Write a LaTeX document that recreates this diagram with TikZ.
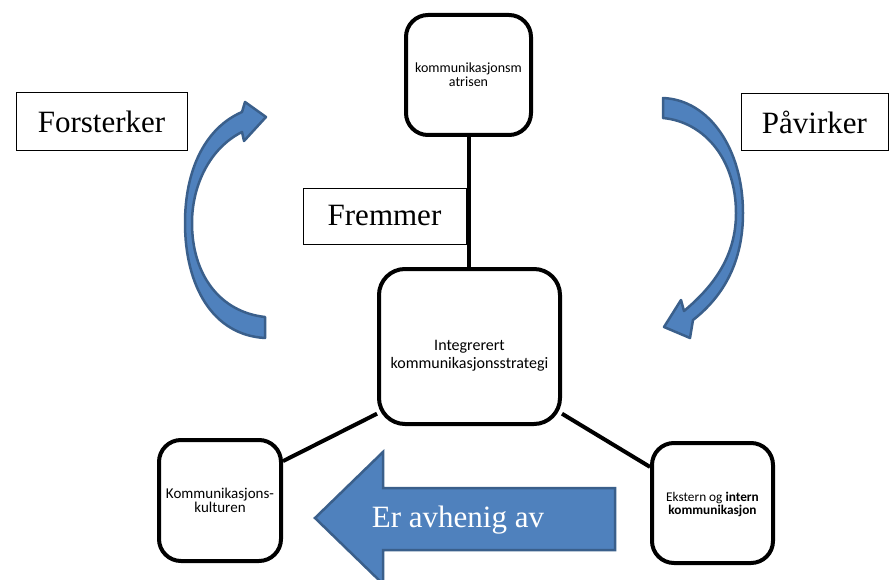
\documentclass[tikz,border=0pt]{standalone}
\usepackage{fontspec}
\setmainfont{Liberation Serif}
\newfontfamily\calfont{Carlito}
\usetikzlibrary{calc}
\definecolor{arrowfill}{HTML}{4F81BD}
\definecolor{arrowline}{HTML}{3A5F8B}
\newcommand\lowertext[2]{\makebox[0pt]{\smash{\raisebox{-#1}{\parbox{170pt}{\centering #2}}}}}
\tikzset{
  roundbox/.style={draw=black, line width=4pt, rounded corners=22pt, fill=white, align=center, inner sep=0pt, font=\calfont},
  labelbox/.style={draw=black, line width=0.8pt, fill=white, inner sep=0pt, font=\fontsize{31}{34}\selectfont},
  conn/.style={draw=black, line width=4pt},
  bluearrow/.style={fill=arrowfill, draw=arrowline, line width=2.5pt, line join=round}
}
\begin{document}
\begin{tikzpicture}[x=1pt,y=-1pt]
\useasboundingbox (0,0) rectangle (889,580);

% label boxes
\node[labelbox, minimum width=171, minimum height=58] (forst) at (101.5,121.5) {Forsterker};
\node[labelbox, minimum width=147, minimum height=57] (pav) at (814.5,122) {Påvirker};
\node[labelbox, minimum width=163, minimum height=56] (frem) at (384.5,216) {Fremmer\hspace{10pt}};

% boxes
\node[roundbox, minimum width=125, minimum height=120, font=\calfont\fontsize{14}{14}\selectfont] (top) at (468.5,75) {\lowertext{3pt}{kommunikasjonsm\\atrisen}};
\node[roundbox, minimum width=181, minimum height=155, rounded corners=26pt, font=\calfont\fontsize{16}{18}\selectfont] (center) at (469.5,346.5) {\lowertext{14pt}{Integrerert\\kommunikasjonsstrategi}};
\node[roundbox, minimum width=122, minimum height=121, font=\calfont\fontsize{15}{14}\selectfont] (left) at (220,500.5) {\lowertext{3pt}{Kommunikasjons-\\kulturen}};
\node[roundbox, minimum width=121, minimum height=120, font=\calfont\fontsize{13.3}{13.5}\selectfont] (right) at (712.5,503) {\lowertext{5pt}{Ekstern og \textbf{intern}\\\textbf{kommunikasjon}}};

% connectors
\draw[conn] (top.south) -- (top.south |- center.north);
\draw[conn] (center.216) -- (left.32);
\draw[conn] (center.-36) -- (right.150);

% left curved arrow (Forsterker)
\draw[bluearrow]
  (265,338) .. controls (212,335) and (185,285) .. (185,223)
  .. controls (185,170) and (205,128) .. (242,112)
  -- (245,102) -- (266,117) -- (244,141) -- (242,132)
  .. controls (210,148) and (192,185) .. (192,223)
  .. controls (192,275) and (220,312) .. (265,317) -- cycle;

% right curved arrow (Påvirker)
\draw[bluearrow]
  (663,98) .. controls (710,100) and (743,150) .. (743,213)
  .. controls (743,260) and (725,295) .. (693,320)
  -- (690,338) -- (664,327) -- (681,300) -- (684,311)
  .. controls (715,285) and (736,255) .. (736,213)
  .. controls (736,160) and (705,122) .. (663,118) -- cycle;

% big arrow
\draw[bluearrow, line join=miter]
  (315,518) -- (383,452) -- (383,488) -- (615,488) -- (615,550) -- (383,550) -- (383,584) -- cycle;
\node[text=white, font=\fontsize{31}{34}\selectfont, inner sep=0pt] (dep) at (458,520) {Er avhenig av};
\end{tikzpicture}
\end{document}
